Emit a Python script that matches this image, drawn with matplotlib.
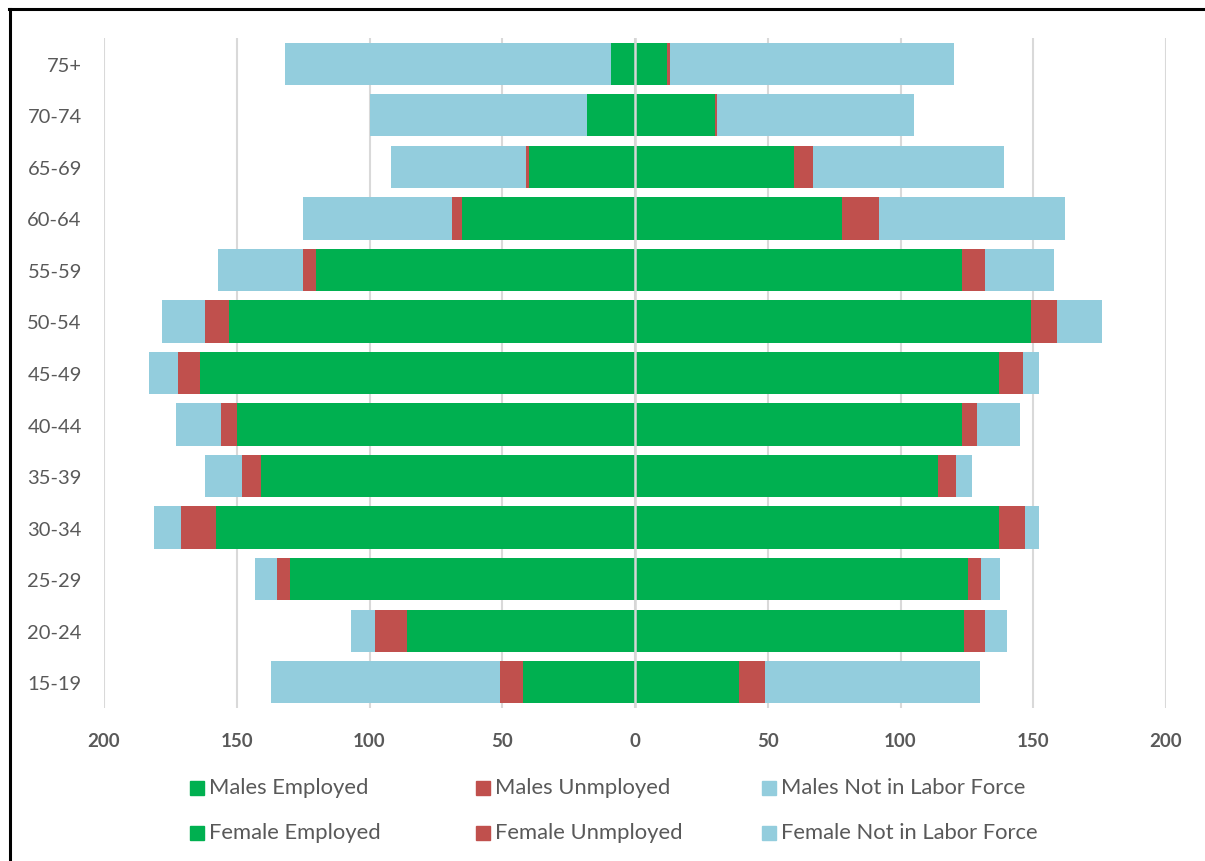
import matplotlib
matplotlib.use("Agg")
import matplotlib.pyplot as plt
from matplotlib.patches import Rectangle
from matplotlib.lines import Line2D
from matplotlib.ticker import FuncFormatter, MultipleLocator
import numpy as np

plt.rcParams['font.family'] = ['Lato', 'DejaVu Sans']

# Age groups, youngest first (drawn bottom to top)
ages = ['15-19', '20-24', '25-29', '30-34', '35-39', '40-44', '45-49',
        '50-54', '55-59', '60-64', '65-69', '70-74', '75+']

# Males (plotted to the left of zero)
males_employed = [42, 86, 130, 158, 141, 150, 164, 153, 120, 65, 40, 18, 9]
males_unemployed = [9, 12, 5, 13, 7, 6, 8, 9, 5, 4, 1, 0, 0]
males_not_in_lf = [86, 9, 8, 10, 14, 17, 11, 16, 32, 56, 51, 82, 123]

# Females (plotted to the right of zero)
female_employed = [39, 124, 125.5, 137, 114, 123, 137, 149, 123, 78, 60, 30, 12]
female_unemployed = [10, 8, 5, 10, 7, 6, 9, 10, 9, 14, 7, 1, 1]
female_not_in_lf = [81, 8, 7, 5, 6, 16, 6, 17, 26, 70, 72, 74, 107]

GREEN = '#00B050'
RED = '#C0504D'
BLUE = '#93CDDD'
TEXT = '#595959'

W, H = 1205, 862
fig = plt.figure(figsize=(W / 100, H / 100), dpi=100)
ax = fig.add_axes([104 / W, 1 - 709 / H, 1062 / W, 670 / H])

y = np.arange(len(ages))
h = 0.82

m_emp = np.array(males_employed, dtype=float)
m_un = np.array(males_unemployed, dtype=float)
m_nlf = np.array(males_not_in_lf, dtype=float)
f_emp = np.array(female_employed, dtype=float)
f_un = np.array(female_unemployed, dtype=float)
f_nlf = np.array(female_not_in_lf, dtype=float)

# male side, stacked outward to the left
ax.barh(y, -m_emp, height=h, color=GREEN, zorder=2)
ax.barh(y, -m_un, left=-m_emp, height=h, color=RED, zorder=2)
ax.barh(y, -m_nlf, left=-(m_emp + m_un), height=h, color=BLUE, zorder=2)

# female side, stacked outward to the right
ax.barh(y, f_emp, height=h, color=GREEN, zorder=2)
ax.barh(y, f_un, left=f_emp, height=h, color=RED, zorder=2)
ax.barh(y, f_nlf, left=f_emp + f_un, height=h, color=BLUE, zorder=2)

ax.axvline(0, color='#d6d6d6', lw=1.8, zorder=3)

ax.set_xlim(-200, 200)
ax.set_ylim(-0.5, len(ages) - 0.5)
ax.xaxis.set_major_locator(MultipleLocator(50))
ax.xaxis.set_major_formatter(FuncFormatter(lambda v, p: f'{abs(v):.0f}'))
ax.grid(axis='x', color='#d9d9d9', lw=1.5, zorder=0)
ax.set_axisbelow(True)

ax.set_yticks(y)
ax.set_yticklabels(ages)
for s in ax.spines.values():
    s.set_visible(False)
ax.tick_params(axis='both', length=0)
ax.tick_params(axis='y', pad=16, labelsize=14.5, labelcolor=TEXT)
ax.tick_params(axis='x', pad=17, labelsize=13.5, labelcolor=TEXT)
for lbl in ax.get_xticklabels():
    lbl.set_fontweight('bold')

# legend: two rows (males, females), three columns
legend_rows = [
    [('Males Employed', GREEN), ('Males Unmployed', RED), ('Males Not in Labor Force', BLUE)],
    [('Female Employed', GREEN), ('Female Unmployed', RED), ('Female Not in Labor Force', BLUE)],
]
col_x = [190, 476, 762]
row_y = [789, 834]
sq = 14
for r, row in enumerate(legend_rows):
    for c, (label, color) in enumerate(row):
        x0 = col_x[c]
        yc = row_y[r]
        fig.add_artist(Rectangle((x0 / W, 1 - (yc + sq / 2) / H), sq / W, sq / H,
                                 transform=fig.transFigure, color=color))
        fig.text((x0 + sq + 5) / W, 1 - (yc - 1) / H, label, fontsize=15.8,
                 color=TEXT, va='center', ha='left')

# frame lines along the top and left edge
fig.add_artist(Line2D([9.5 / W, 9.5 / W], [0, 1 - 9.5 / H], transform=fig.transFigure,
                      color='black', lw=2.2))
fig.add_artist(Line2D([8.5 / W, 1203 / W], [1 - 9.5 / H, 1 - 9.5 / H],
                      transform=fig.transFigure, color='black', lw=2.2))

fig.savefig('out.png', dpi=100)
